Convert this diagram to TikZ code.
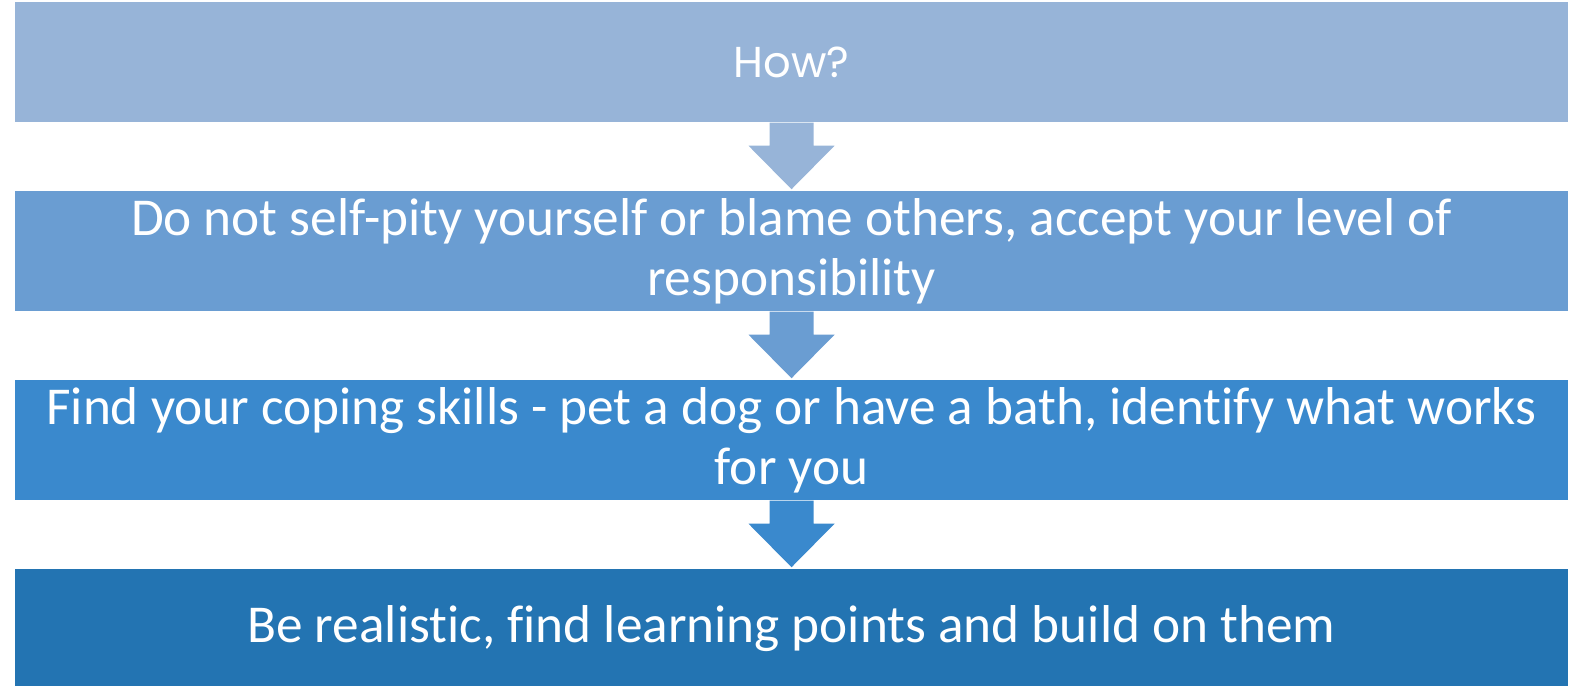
\documentclass[tikz,border=0pt]{standalone}
\usepackage{fontspec}
\setmainfont{Carlito}[Ligatures=NoCommon]
\newfontfamily\howfont{Poppins}
\usetikzlibrary{calc}

\definecolor{stepA}{RGB}{151,180,216}
\definecolor{stepB}{RGB}{106,157,210}
\definecolor{stepC}{RGB}{58,137,205}
\definecolor{stepD}{RGB}{35,116,178}

\tikzset{
  stepbox/.style={rectangle,minimum width=15.53cm,minimum height=1.2cm,
    inner sep=0pt,text=white,align=center,
    font=\fontsize{15.15}{17}\selectfont},
}

\begin{document}
\begin{tikzpicture}[x=0.01cm,y=-0.01cm]
      \useasboundingbox (0,0) rectangle (1577,686);

      \begin{scope}[every node/.style={stepbox}]
        \node[fill=stepA] (how)  at (791.5,62)  {\howfont\fontsize{12.3}{14}\selectfont How?};
        \node[fill=stepB] (pity) at (791.5,251) {Do not self-pity yourself or blame others, accept your level of\\responsibility};
        \node[fill=stepC] (cope) at (791.5,440) {Find your coping skills - pet a dog or have a bath, identify what works\\for you};
        \node[fill=stepD] (real) at (791.5,629) {Be realistic, find learning points and build on them};
      \end{scope}

      % block arrows between the steps
      \foreach \a/\b/\c in {how/pity/stepA, pity/cope/stepB, cope/real/stepC}
        \fill[\c] ($(\a.south)+(-22,0)$) -- ($(\a.south)+(22,0)$)
          -- ($(\a.south)+(22,23)$) -- ($(\a.south)+(43,23)$)
          -- ($(\b.north)+(0,-1)$)
          -- ($(\a.south)+(-43,23)$) -- ($(\a.south)+(-22,23)$) -- cycle;

\end{tikzpicture}
\end{document}
